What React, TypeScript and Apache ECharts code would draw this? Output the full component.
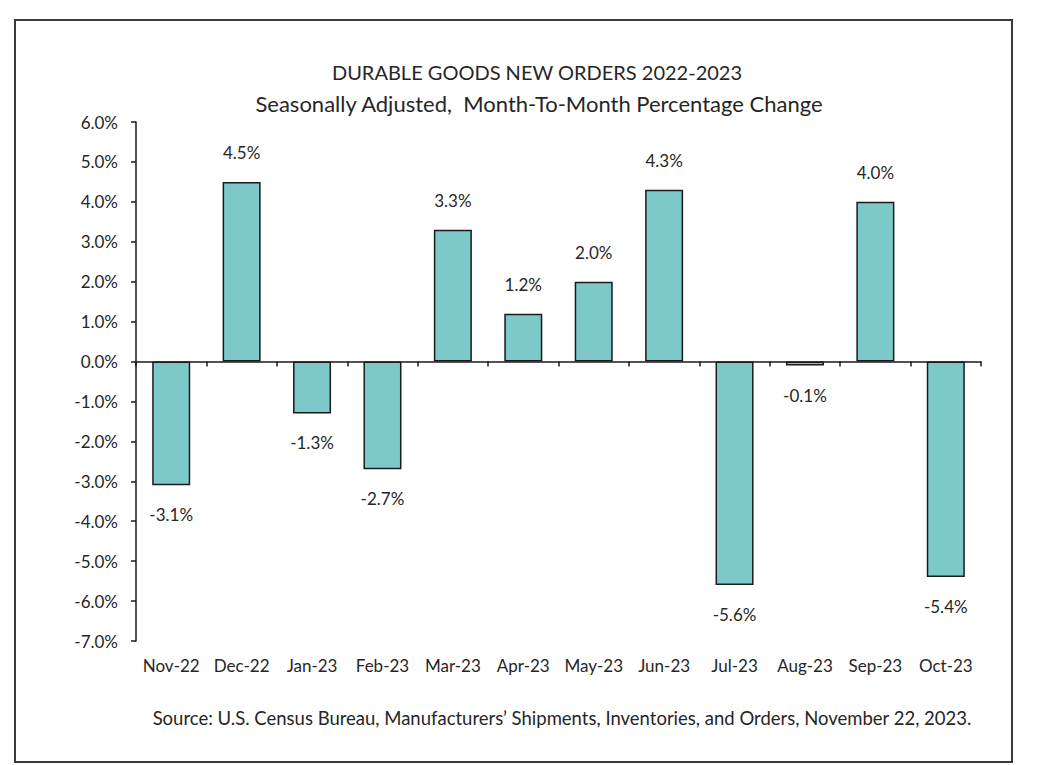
import React, { useEffect, useRef } from "react";
import * as echarts from "echarts";

const categories = ["Nov-22", "Dec-22", "Jan-23", "Feb-23", "Mar-23", "Apr-23", "May-23", "Jun-23", "Jul-23", "Aug-23", "Sep-23", "Oct-23"];
const changePct = [-3.1, 4.5, -1.3, -2.7, 3.3, 1.2, 2.0, 4.3, -5.6, -0.1, 4.0, -5.4];
const titleText = "DURABLE GOODS NEW ORDERS 2022-2023";
const subtitleText = "Seasonally Adjusted,  Month-To-Month Percentage Change";
const sourceText = "Source: U.S. Census Bureau, Manufacturers\u2019 Shipments, Inventories, and Orders, November 22, 2023.";

const FONT = "Lato, 'Open Sans', sans-serif";
const TXT = "#262626";

export default function App() {
  const ref = useRef<HTMLDivElement>(null);
  useEffect(() => {
    document.body.style.margin = "0";
    const chart = echarts.init(ref.current!, null, { renderer: "svg" });
    chart.setOption({
      animation: false,
      backgroundColor: "#ffffff",
      textStyle: { fontFamily: FONT, color: TXT },
      title: [
        {
          text: titleText,
          left: 532,
          top: 57,
          textAlign: "center",
          textStyle: { fontFamily: FONT, fontSize: 20, fontWeight: "normal", color: TXT },
        },
        {
          text: subtitleText,
          left: 534,
          top: 87,
          textAlign: "center",
          textStyle: { fontFamily: FONT, fontSize: 22, fontWeight: "normal", color: TXT },
        },
        {
          text: sourceText,
          left: 557,
          top: 703,
          textAlign: "center",
          textStyle: { fontFamily: FONT, fontSize: 18.5, fontWeight: "normal", color: TXT },
        },
      ],
      graphic: [
        {
          type: "rect",
          shape: { x: 15, y: 20, width: 997, height: 742 },
          style: { fill: "none", stroke: "#3a3a3a", lineWidth: 2 },
          silent: true,
        },
      ],
      grid: { left: 136, right: 68, top: 122, bottom: 124, containLabel: false },
      xAxis: [
        {
          type: "category",
          data: categories,
          position: "bottom",
          axisLine: { show: false, onZero: false },
          axisTick: { show: false },
          axisLabel: { interval: 0, hideOverlap: false, margin: 16, fontFamily: FONT, fontSize: 17, color: TXT },
        },
        {
          type: "category",
          data: categories,
          position: "bottom",
          axisLine: { show: true, onZero: true, lineStyle: { color: "#1a1a1a", width: 1.5 } },
          axisTick: { show: true, interval: 0, inside: false, length: 5, lineStyle: { color: "#1a1a1a", width: 1.5 } },
          axisLabel: { show: false },
        },
      ],
      yAxis: {
        type: "value",
        min: -7,
        max: 6,
        interval: 1,
        axisLine: { show: true, lineStyle: { color: "#1a1a1a", width: 1.5 } },
        axisTick: { show: true, inside: false, length: 5, lineStyle: { color: "#1a1a1a", width: 1.5 } },
        splitLine: { show: false },
        axisLabel: {
          margin: 18,
          fontFamily: FONT,
          fontSize: 17,
          color: TXT,
          formatter: (v: number) => v.toFixed(1) + "%",
        },
      },
      series: [
        {
          type: "bar",
          xAxisIndex: 0,
          barCategoryGap: "46%",
          data: changePct.map((v) => ({
            value: v,
            label: { position: v >= 0 ? "top" : "bottom" },
          })),
          itemStyle: { color: "#7dc9c9", borderColor: "#1a1a1a", borderWidth: 1.5 },
          label: {
            show: true,
            distance: 21,
            fontFamily: FONT,
            fontSize: 17,
            color: TXT,
            formatter: (p: any) => Number(p.value).toFixed(1) + "%",
          },
        },
      ],
    });
    return () => chart.dispose();
  }, []);
  return <div ref={ref} style={{ width: 1049, height: 765 }} />;
}
